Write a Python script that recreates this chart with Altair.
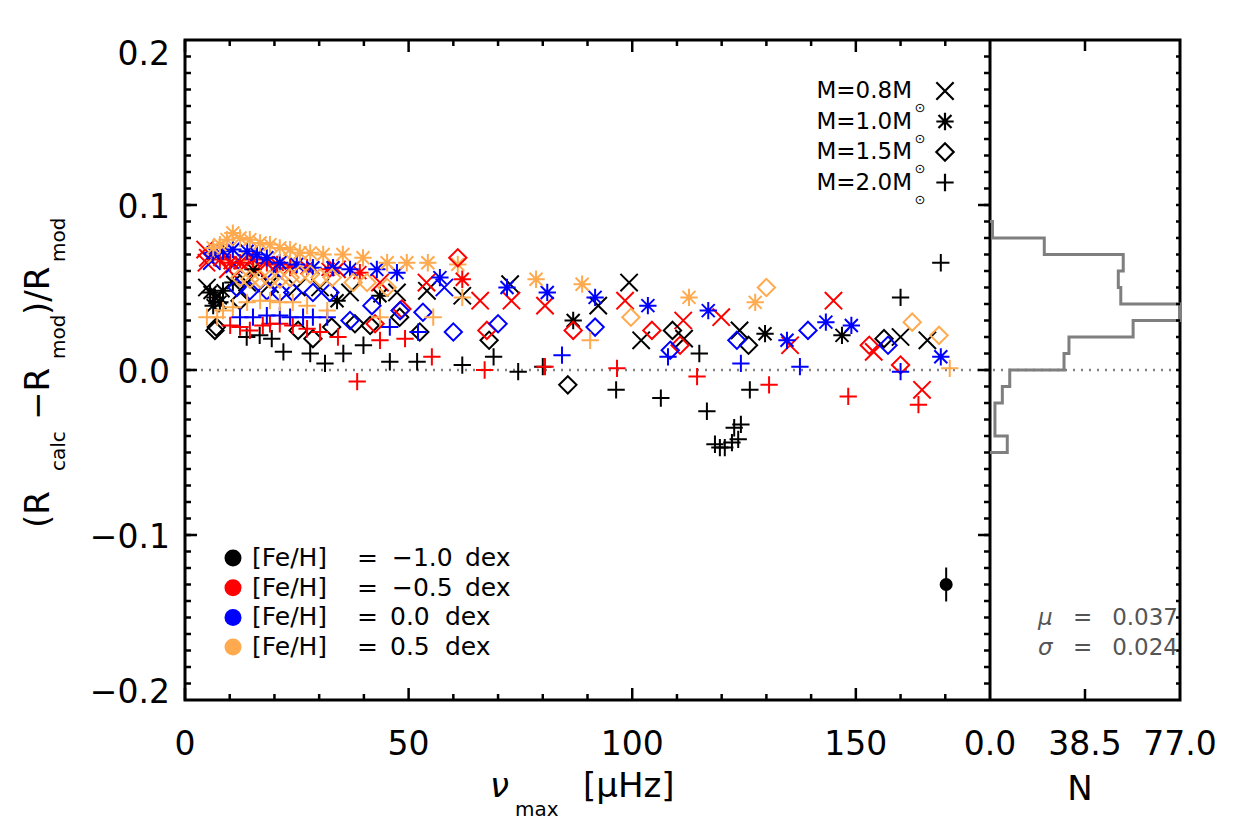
import altair as alt
import pandas as pd

FONT = "DejaVu Sans"

# ---------------------------------------------------------------------------
# Model grid: nu_max [muHz] and (R_calc - R_mod)/R_mod, keyed by [Fe/H]
# ---------------------------------------------------------------------------
mass_08 = {  # M = 0.8 Msun
    "-1.0": ([4.9, 7.4, 13.9, 19.0, 25.0, 30.2, 36.9, 47.4, 54.1, 62.0, 72.7, 92.4, 99.3, 102.0, 111.6, 124.0, 160.0, 166.0],
             [0.050, 0.045, 0.053, 0.052, 0.050, 0.050, 0.047, 0.047, 0.048, 0.045, 0.052, 0.039, 0.053, 0.018, 0.019, 0.024, 0.020, 0.018]),
    "-0.5": ([4.5, 5.1, 4.8, 9.6, 13.3, 16.1, 34.0, 43.6, 54.0, 66.0, 73.0, 80.5, 98.4, 111.4, 119.9, 135.3, 145.0, 154.0, 164.8],
             [0.073, 0.068, 0.065, 0.061, 0.063, 0.061, 0.061, 0.053, 0.053, 0.042, 0.042, 0.039, 0.042, 0.030, 0.032, 0.015, 0.042, 0.011, -0.012]),
    "0.0": ([6.0, 11.0, 20.0, 58.0],
            [0.066, 0.064, 0.060, 0.050]),
    "0.5": ([7.0, 14.0, 24.0],
            [0.070, 0.068, 0.066]),
}
mass_10 = {  # M = 1.0 Msun
    "-1.0": ([5.6, 6.7, 7.8, 6.3, 8.5, 10.7, 15.2, 34.0, 43.6, 86.8, 129.7, 146.9],
             [0.047, 0.044, 0.041, 0.039, 0.048, 0.053, 0.061, 0.042, 0.045, 0.030, 0.022, 0.021]),
    "-0.5": ([7.8, 10.1, 12.3, 15.2, 18.3, 20.6, 23.5, 27.3, 32.0, 39.1, 62.0],
             [0.067, 0.065, 0.065, 0.067, 0.065, 0.064, 0.062, 0.062, 0.061, 0.059, 0.055]),
    "0.0": ([6.3, 8.5, 10.7, 13.9, 16.1, 18.3, 21.2, 25.0, 28.6, 33.1, 36.9, 42.9, 47.4, 57.0, 72.0, 81.0, 91.7, 103.5, 117.0, 134.6, 143.3, 149.0, 169.0],
            [0.071, 0.072, 0.073, 0.072, 0.070, 0.068, 0.065, 0.064, 0.062, 0.062, 0.061, 0.061, 0.059, 0.056, 0.050, 0.047, 0.044, 0.039, 0.036, 0.018, 0.029, 0.027, 0.008]),
    "0.5": ([10.7, 12.3, 9.4, 7.8, 6.3, 14.5, 16.8, 19.0, 21.2, 23.5, 25.7, 28.0, 30.9, 35.3, 39.8, 45.2, 49.6, 54.3, 61.0, 78.5, 88.8, 112.7, 127.5],
            [0.083, 0.080, 0.079, 0.076, 0.074, 0.079, 0.077, 0.076, 0.074, 0.073, 0.071, 0.071, 0.070, 0.070, 0.068, 0.065, 0.065, 0.065, 0.064, 0.055, 0.052, 0.044, 0.041]),
}
mass_15 = {  # M = 1.5 Msun
    "-1.0": ([6.7, 7.0, 12.3, 25.3, 28.6, 32.8, 38.0, 41.4, 48.0, 52.5, 68.0, 85.6, 109.0, 126.0, 156.3],
             [0.024, 0.026, 0.042, 0.024, 0.019, 0.026, 0.028, 0.027, 0.032, 0.023, 0.018, -0.009, 0.024, 0.015, 0.019]),
    "-0.5": ([42.5, 48.5, 61.0, 67.5, 86.8, 104.4, 110.7, 153.0, 160.0],
             [0.028, 0.037, 0.068, 0.024, 0.024, 0.024, 0.015, 0.015, 0.003]),
    "0.0": ([11.6, 14.5, 18.3, 21.2, 24.1, 28.6, 32.4, 36.9, 41.8, 48.1, 53.2, 60.0, 70.0, 91.7, 108.5, 123.4, 139.3, 157.2],
            [0.050, 0.048, 0.048, 0.047, 0.047, 0.047, 0.047, 0.030, 0.039, 0.036, 0.035, 0.023, 0.028, 0.026, 0.012, 0.018, 0.024, 0.015]),
    "0.5": ([12.3, 14.5, 16.8, 19.0, 21.2, 23.5, 25.7, 28.0, 30.2, 32.9, 37.6, 40.7, 45.2, 99.7, 130.0, 162.6, 168.6],
            [0.056, 0.055, 0.055, 0.055, 0.055, 0.056, 0.058, 0.058, 0.056, 0.056, 0.053, 0.053, 0.050, 0.032, 0.050, 0.029, 0.021]),
}
mass_20 = {  # M = 2.0 Msun
    "-1.0": ([13.8, 16.7, 19.4, 22.0, 28.0, 31.3, 35.4, 39.9, 45.8, 51.9, 62.0, 69.0, 74.5, 80.0, 96.4, 106.4, 115.0, 116.7,
              118.5, 119.6, 120.7, 122.3, 123.7, 122.8, 124.3, 126.3, 160.0, 169.0],
             [0.020, 0.021, 0.019, 0.011, 0.010, 0.004, 0.010, 0.015, 0.005, 0.005, 0.003, 0.008, -0.001, 0.002, -0.012, -0.017, 0.010, -0.025,
              -0.045, -0.047, -0.047, -0.044, -0.042, -0.035, -0.033, -0.012, 0.044, 0.065]),
    "-0.5": ([10.1, 12.3, 14.5, 17.4, 19.0, 21.2, 24.1, 27.3, 30.2, 34.2, 38.5, 43.6, 49.2, 55.2, 67.0, 80.5, 96.6, 114.5, 130.6, 148.3, 164.0],
             [0.027, 0.026, 0.024, 0.027, 0.028, 0.028, 0.027, 0.025, 0.023, 0.020, -0.007, 0.018, 0.019, 0.008, 0.000, 0.002, 0.001, -0.004, -0.009, -0.016, -0.021]),
    "0.0": ([12.3, 15.2, 18.3, 21.2, 23.5, 26.4, 28.6, 31.8, 45.8, 52.1, 84.3, 108.0, 124.3, 137.5, 160.0],
            [0.032, 0.032, 0.033, 0.033, 0.032, 0.032, 0.032, 0.032, 0.026, 0.023, 0.009, 0.008, 0.004, 0.002, -0.001]),
    "0.5": ([4.9, 7.2, 8.5, 10.7, 13.9, 16.8, 19.0, 21.2, 24.1, 27.3, 31.8, 43.6, 55.5, 62.0, 90.6, 171.0],
            [0.032, 0.032, 0.036, 0.038, 0.041, 0.042, 0.042, 0.041, 0.041, 0.039, 0.036, 0.032, 0.032, 0.044, 0.018, 0.001]),
}

mass_labels = ["0.8", "1.0", "1.5", "2.0"]
feh_labels = ["-1.0", "-0.5", "0.0", "0.5"]
feh_colors = ["#000000", "#FF0000", "#0000FF", "#FFAA4F"]

# typical uncertainty shown in the lower right corner
err_nu = [170.2]
err_dr = [-0.130]
err_sig = [0.0103]

# histogram of all residuals, bins of 0.01 from -0.05 to 0.09
hist_edges = [-0.05, -0.04, -0.03, -0.02, -0.01, 0.00, 0.01, 0.02, 0.03, 0.04, 0.05, 0.06, 0.07, 0.08, 0.09]
hist_counts = [7, 2, 2, 5, 8, 30, 32, 58, 77, 53, 52, 54, 22, 1]
stat_mu = 0.037
stat_sigma = 0.024

# axis ticks and tick labels
x_major = [0, 50, 100, 150]
x_minor = [v for v in range(10, 180, 10) if v % 50]
y_labels = [-0.2, -0.1, 0.0, 0.1, 0.2]
y_major = [-0.1, 0.0, 0.1]
y_minor = [round(-0.19 + 0.01 * i, 2) for i in range(39)]
n_labels = [0.0, 38.5, 77.0]
n_ticks = [38.5]

# ---------------------------------------------------------------------------
W_MAIN, W_HIST, H = 805, 190, 660
W = W_MAIN + W_HIST
LABEL_SIZE = 33

X_PATH = "M-1,-1L1,1M-1,1L1,-1"
AST_PATH = "M-1,0L1,0M0,-1L0,1M-0.75,-0.75L0.75,0.75M-0.75,0.75L0.75,-0.75"
DIA_PATH = "M0,-1L1,0L0,1L-1,0Z"
PLUS_PATH = "M-1,0L1,0M0,-1L0,1"
shapes = [X_PATH, AST_PATH, DIA_PATH, PLUS_PATH]
MARK_SIZE = 300

rows = []
for m, series in zip(mass_labels, [mass_08, mass_10, mass_15, mass_20]):
    for feh, (nus, drs) in series.items():
        for n, d in zip(nus, drs):
            rows.append({"nu": n, "dr": d, "mass": m, "feh": feh})
scatter_df = pd.DataFrame(rows)

x_main = alt.Scale(domain=[0, 180], range=[0, W_MAIN], nice=False, zero=False)
x_hist = alt.Scale(domain=[0, 77], range=[W_MAIN, W], nice=False, zero=False)
y_sc = alt.Scale(domain=[-0.2, 0.2], nice=False, zero=False)

one_row = alt.Data(values=[{}])


def fmt(v, digits):
    s = f"{abs(v):.{digits}f}"
    return ("\u2212" + s) if v < 0 else s


def txt(s, x, y, size=LABEL_SIZE, color="black", align="left", baseline="middle", angle=0, style="normal"):
    return alt.Chart(one_row).mark_text(
        text=s, font=FONT, fontSize=size, color=color, align=align,
        baseline=baseline, angle=angle, fontStyle=style
    ).encode(x=alt.value(x), y=alt.value(y))


def sym(shape, x, y, color="black", size=MARK_SIZE, filled=False):
    return alt.Chart(one_row).mark_point(
        shape=shape, size=size, filled=filled, color=color, strokeWidth=2.2, opacity=1
    ).encode(x=alt.value(x), y=alt.value(y))


def xticks(values, scale, length):
    d = alt.Data(values=[{"v": v} for v in values])
    bottom = alt.Chart(d).mark_rule(color="black", strokeWidth=2.5).encode(
        x=alt.X("v:Q", scale=scale, axis=None), y=alt.value(H), y2=alt.value(H - length))
    top = alt.Chart(d).mark_rule(color="black", strokeWidth=2.5).encode(
        x=alt.X("v:Q", scale=scale, axis=None), y=alt.value(0), y2=alt.value(length))
    return [bottom, top]


def yticks(values, x0, length):
    d = alt.Data(values=[{"v": v} for v in values])
    return alt.Chart(d).mark_rule(color="black", strokeWidth=2.5).encode(
        y=alt.Y("v:Q", scale=y_sc, axis=None), x=alt.value(x0), x2=alt.value(x0 + length))


def xlabels(values, scale, digits):
    d = alt.Data(values=[{"v": v, "t": fmt(v, digits)} for v in values])
    return alt.Chart(d).mark_text(font=FONT, fontSize=LABEL_SIZE, color="black",
                                  align="center", baseline="alphabetic").encode(
        x=alt.X("v:Q", scale=scale, axis=None), y=alt.value(H + 55), text="t:N")


def ylabels(values, dy):
    d = alt.Data(values=[{"v": v, "t": fmt(v, 1)} for v in values])
    return alt.Chart(d).mark_text(font=FONT, fontSize=LABEL_SIZE, color="black",
                                  align="right", baseline="alphabetic", dy=dy).encode(
        y=alt.Y("v:Q", scale=y_sc, axis=None), x=alt.value(-15), text="t:N")


# ---------------------------------------------------------------- main panel
points = alt.Chart(scatter_df).mark_point(filled=False, strokeWidth=2, size=MARK_SIZE, opacity=1).encode(
    x=alt.X("nu:Q", scale=x_main, axis=None),
    y=alt.Y("dr:Q", scale=y_sc, axis=None),
    shape=alt.Shape("mass:N", scale=alt.Scale(domain=mass_labels, range=shapes), legend=None),
    color=alt.Color("feh:N", scale=alt.Scale(domain=feh_labels, range=feh_colors), legend=None),
)

err_df = pd.DataFrame({"nu": err_nu, "dr": err_dr, "sig": err_sig})
err_df["lo"] = err_df["dr"] - err_df["sig"]
err_df["hi"] = err_df["dr"] + err_df["sig"]
err_bar = alt.Chart(err_df).mark_rule(color="black", strokeWidth=2).encode(
    x=alt.X("nu:Q", scale=x_main, axis=None),
    y=alt.Y("lo:Q", scale=y_sc, axis=None), y2="hi:Q")
err_dot = alt.Chart(err_df).mark_circle(color="black", size=170, opacity=1).encode(
    x=alt.X("nu:Q", scale=x_main, axis=None),
    y=alt.Y("dr:Q", scale=y_sc, axis=None))

zero_line = alt.Chart(alt.Data(values=[{"v": 0.0}])).mark_rule(
    color="#808080", strokeWidth=2.5, strokeDash=[2, 6]).encode(
    y=alt.Y("v:Q", scale=y_sc, axis=None), x=alt.value(0), x2=alt.value(W))

divider = alt.Chart(one_row).mark_rule(color="black", strokeWidth=3).encode(
    x=alt.value(W_MAIN), y=alt.value(0), y2=alt.value(H))

main_layers = [zero_line, points, err_bar, err_dot, divider]
main_layers += xticks(x_major, x_main, 12) + xticks(x_minor, x_main, 6)
main_layers += [yticks(y_major, 0, 12), yticks(y_minor, 0, 6),
                yticks(y_major, W_MAIN, -12), yticks(y_minor, W_MAIN, -6)]
main_layers += [
    xlabels(x_major, x_main, 0),
    ylabels([v for v in y_labels if abs(v) < 0.15], 13),
    ylabels([y_labels[-1]], 25),
    ylabels([y_labels[0]], 3),
]

# mass legend (upper right)
for i, (m, shp) in enumerate(zip(mass_labels, shapes)):
    yy = 51 + 30.5 * i
    main_layers.append(txt(f"M={m}M", 727, yy, size=23, align="right"))
    main_layers.append(txt("\u2299", 735, yy + 17, size=13, align="center"))
    main_layers.append(sym(shp, 760, yy))

# metallicity legend (lower left): bullet, "[Fe/H]", "=", value, "dex"
for i, (f, c) in enumerate(zip(feh_labels, feh_colors)):
    yy = 518 + 29.7 * i
    neg = f.startswith("-")
    main_layers.append(sym("circle", 48, yy, color=c, size=290, filled=True))
    main_layers.append(txt("[Fe/H]", 67, yy, size=25))
    main_layers.append(txt("=", 172, yy, size=25))
    main_layers.append(txt(f.replace("-", "\u2212"), 207 if neg else 205, yy, size=25))
    main_layers.append(txt("dex", 280 if neg else 260, yy, size=25))

# axis titles
main_layers += [
    txt("(R", -146, 488, angle=270, size=34),
    txt("calc", -126, 431, angle=270, size=20),
    txt("\u2212R", -146, 380, angle=270, size=34),
    txt("mod", -126, 319, angle=270, size=20),
    txt(")/R", -146, 275, angle=270, size=34),
    txt("mod", -126, 222, angle=270, size=20),
    txt("\u03bd", 305, 747, size=34, style="italic"),
    txt("max", 330, 770, size=20),
    txt("[\u03bcHz]", 398, 747, size=34),
]

main = alt.layer(*main_layers)

# ----------------------------------------------------------- histogram panel
step = []
for k, c in enumerate(hist_counts):
    if k == 0:
        step.append({"cnt": 0, "edge": hist_edges[0]})
    step.append({"cnt": c, "edge": hist_edges[k]})
    step.append({"cnt": c, "edge": hist_edges[k + 1]})
step.append({"cnt": 0, "edge": hist_edges[-1]})
for i, s in enumerate(step):
    s["i"] = i

hist_line = alt.Chart(alt.Data(values=step)).mark_line(color="#7F7F7F", strokeWidth=3).encode(
    x=alt.X("cnt:Q", scale=x_hist, axis=None),
    y=alt.Y("edge:Q", scale=y_sc, axis=None),
    order="i:Q",
)

STAT_GREY = "#555555"
hist_layers = [hist_line] + xticks(n_ticks, x_hist, 11)
hist_layers.append(yticks(y_minor, W, -4))
hist_layers.append(xlabels(n_labels, x_hist, 1))
for row, (sym_char, val) in enumerate([("\u03bc", stat_mu), ("\u03c3", stat_sigma)]):
    yy = 578 + 30 * row
    hist_layers += [
        txt(sym_char, 853, yy, size=23, color=STAT_GREY, style="italic"),
        txt("=", 888, yy, size=23, color=STAT_GREY),
        txt(f"{val:.3f}", W - 2, yy, size=23, color=STAT_GREY, align="right"),
    ]
hist_layers.append(txt("N", 895, 750, size=34, align="center"))
hist = alt.layer(*hist_layers)

chart = (
    alt.layer(main, hist)
    .resolve_scale(x="independent")
    .properties(
        width=W, height=H,
        padding={"left": 185, "top": 40, "right": 60, "bottom": 125},
        autosize=alt.AutoSizeParams(type="none"),
        background="white",
    )
    .configure_view(stroke="black", strokeWidth=3)
)

chart.save("out.html", embed_options={"renderer": "svg", "actions": False})
